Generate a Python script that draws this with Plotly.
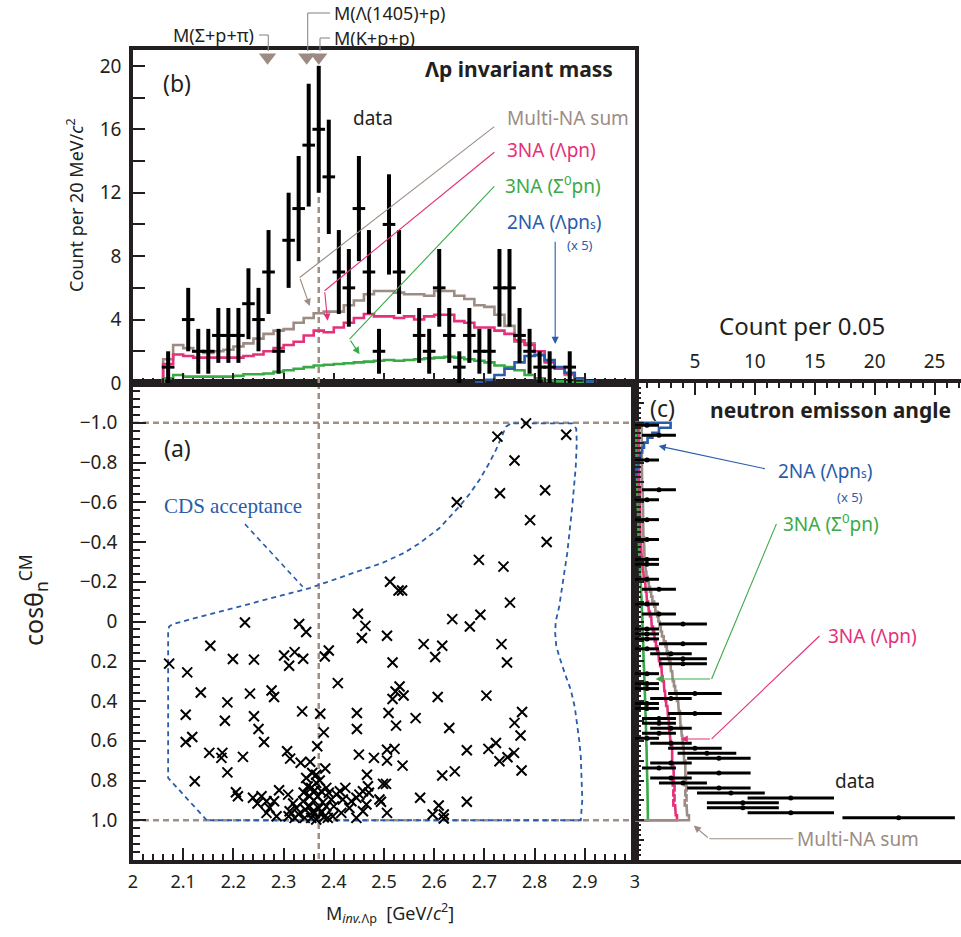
import numpy as np
import plotly.graph_objects as go

W, H = 961, 937

# ---------------- data ----------------
# (b) Lambda-p invariant mass, data in 20 MeV bins
b_centers = [round(2.07 + 0.02 * i, 2) for i in range(41)]
b_counts = [1, 0, 4, 2, 2, 3, 3, 3, 5, 4, 7, 2, 9, 11, 15, 16, 13, 7, 6, 11,
            7, 2, 10, 7, 0, 3, 2, 6, 3, 1, 3, 2, 2, 6, 6, 3, 2, 1, 1, 0, 1]

# (b) model histograms, bins 2.06 .. 2.92
b_edges = [round(2.06 + 0.02 * i, 2) for i in range(44)]
multi_b = [1.5, 2.4, 2.2, 2.0, 1.9, 2.0, 2.1, 2.3, 2.5, 2.8, 3.1, 3.3, 3.4, 3.8, 4.1,
           4.4, 4.5, 4.5, 4.9, 5.2, 5.6, 5.8, 5.8, 5.7, 5.6, 5.6, 5.5, 5.8, 5.8, 5.5,
           5.3, 4.9, 4.8, 4.3, 3.6, 2.6, 2.5, 1.8, 1.4, 0.9, 0.5, 0.3, 0.1]
lpn_b = [1.2, 1.8, 1.7, 1.6, 1.6, 1.6, 1.6, 1.6, 1.7, 1.8, 2.0, 2.2, 2.4, 2.6, 3.0,
         3.3, 3.2, 3.5, 3.8, 4.1, 4.35, 4.2, 4.2, 4.1, 4.2, 4.0, 4.2, 4.3, 4.3, 3.9,
         3.8, 3.5, 3.5, 3.3, 3.1, 2.7, 2.4, 2.0, 1.3, 0.9, 0.6, 0.3, 0.1]
s0pn_b = [0.3, 0.5, 0.4, 0.4, 0.4, 0.4, 0.4, 0.45, 0.55, 0.55, 0.6, 0.7, 0.8, 0.9, 1.0,
          1.1, 1.15, 1.2, 1.25, 1.3, 1.35, 1.4, 1.45, 1.4, 1.45, 1.5, 1.55, 1.6, 1.65, 1.6,
          1.5, 1.4, 1.3, 1.1, 1.0, 0.8, 0.5, 0.3, 0.15, 0.1, 0.05, 0.0, 0.0]
na2_edges = [round(2.68 + 0.02 * i, 2) for i in range(13)]
na2_b = [0.05, 0.2, 0.5, 0.9, 1.3, 1.7, 1.75, 1.45, 1.0, 0.65, 0.3, 0.1]

# thresholds marked on top
thr_mass = [2.268, 2.346, 2.370]

# (a) scatter: invariant mass vs cos theta_n
scat_m = [2.783, 2.726, 2.863, 2.760, 2.731, 2.821, 2.645, 2.791, 2.824, 2.689, 2.738, 2.512,
          2.529, 2.536, 2.751, 2.692, 2.636,
          2.671, 2.506, 2.579, 2.616, 2.602, 2.734, 2.517, 2.745, 2.531, 2.523, 2.539, 2.517,
          2.607, 2.704, 2.775, 2.509, 2.563, 2.760, 2.524, 2.630, 2.772, 2.723, 2.708, 2.506,
          2.521, 2.665, 2.759, 2.746, 2.730, 2.506, 2.537, 2.774, 2.641, 2.616, 2.498, 2.504,
          2.572, 2.665, 2.494, 2.609, 2.506, 2.597, 2.619, 2.619,
          2.448, 2.331, 2.463, 2.223, 2.345, 2.456, 2.154, 2.390, 2.382, 2.301, 2.322, 2.339,
          2.311, 2.199, 2.241, 2.072, 2.108, 2.408, 2.135, 2.233, 2.276, 2.281, 2.188, 2.337,
          2.373, 2.446, 2.105, 2.241, 2.183, 2.250, 2.380, 2.446, 2.261, 2.105, 2.118, 2.367,
          2.152, 2.178, 2.176, 2.219, 2.307, 2.313, 2.334, 2.353, 2.383, 2.188, 2.450, 2.480,
          2.466, 2.123, 2.357, 2.365, 2.345,
          2.205, 2.209, 2.239, 2.256, 2.248, 2.266, 2.281, 2.272, 2.266, 2.291, 2.309, 2.319,
          2.325, 2.312, 2.322, 2.339, 2.343, 2.352, 2.355, 2.365, 2.362, 2.355, 2.375, 2.385,
          2.390, 2.395, 2.385, 2.375, 2.388, 2.398, 2.412, 2.423, 2.418, 2.415, 2.431, 2.435,
          2.445, 2.451, 2.458, 2.468, 2.470, 2.465, 2.458, 2.445, 2.491, 2.286, 2.310, 2.342,
          2.365,
          2.348, 2.352, 2.360, 2.368, 2.370, 2.372, 2.378, 2.380, 2.362, 2.357, 2.400, 2.405,
          2.330, 2.340]
scat_cos = [-0.997, -0.93, -0.94, -0.81, -0.645, -0.66, -0.60, -0.51, -0.40, -0.31, -0.276, -0.20,
            -0.156, -0.156, -0.095, -0.034, -0.012,
            0.025, 0.072, 0.114, 0.122, 0.179, 0.114, 0.206, 0.206, 0.327, 0.352, 0.372, 0.39,
            0.38, 0.373, 0.455, 0.46, 0.486, 0.51, 0.524, 0.536, 0.574, 0.611, 0.641, 0.645,
            0.641, 0.648, 0.661, 0.683, 0.703, 0.70, 0.725, 0.75, 0.754, 0.775, 0.817, 0.817,
            0.887, 0.907, 0.907, 0.926, 0.963, 0.971, 0.971, 0.991,
            -0.039, 0.013, 0.022, 0.005, 0.053, 0.083, 0.122, 0.146, 0.176, 0.171, 0.154, 0.187,
            0.223, 0.189, 0.192, 0.212, 0.256, 0.31, 0.357, 0.363, 0.347, 0.38, 0.407, 0.452,
            0.464, 0.46, 0.469, 0.477, 0.499, 0.541, 0.558, 0.541, 0.606, 0.606, 0.581, 0.628,
            0.661, 0.661, 0.686, 0.681, 0.653, 0.69, 0.711, 0.706, 0.74, 0.759, 0.67, 0.686,
            0.771, 0.804, 0.762, 0.771, 0.787,
            0.859, 0.879, 0.887, 0.879, 0.916, 0.904, 0.904, 0.938, 0.963, 0.849, 0.871, 0.916,
            0.938, 0.955, 0.988, 0.904, 0.946, 0.879, 0.837, 0.812, 0.963, 0.988, 0.854, 0.837,
            0.862, 0.896, 0.93, 0.963, 0.988, 0.98, 0.854, 0.837, 0.896, 0.963, 0.938, 0.904,
            0.887, 0.871, 0.854, 0.829, 0.862, 0.921, 0.955, 0.988, 0.896, 0.98, 0.98, 0.988,
            0.996,
            0.83, 0.93, 0.90, 0.88, 0.94, 0.80, 0.91, 0.985, 0.85, 0.96, 0.93, 0.87,
            0.97, 0.86]

# CDS acceptance contour (mass, cos)
cds_m = [2.147, 2.070, 2.070, 2.072, 2.080, 2.352, 2.498, 2.540, 2.571, 2.610, 2.647, 2.670,
         2.690, 2.708, 2.723, 2.735, 2.743, 2.753, 2.875, 2.883, 2.884, 2.882, 2.879, 2.875,
         2.870, 2.865, 2.857, 2.849, 2.842, 2.841, 2.843, 2.849, 2.860, 2.872, 2.880, 2.885,
         2.889, 2.892, 2.894, 2.895, 2.892, 2.147]
cds_cos = [1.0, 0.787, 0.05, 0.025, 0.012, -0.168, -0.296, -0.345, -0.394, -0.469, -0.57, -0.64,
           -0.712, -0.79, -0.863, -0.93, -0.98, -0.997, -0.997, -0.97, -0.9, -0.779, -0.68, -0.578,
           -0.46, -0.344, -0.21, -0.075, 0.0, 0.058, 0.12, 0.176, 0.26, 0.343, 0.43, 0.511,
           0.6, 0.678, 0.79, 0.896, 1.0, 1.0]

# (c) neutron emission angle, bins of 0.025 from -1 to 1
c_edges = [round(-1 + 0.025 * k, 4) for k in range(81)]
c_counts = [1, 0, 2, 0, 0, 0, 0, 1, 0, 0,
            0, 0, 0, 2, 0, 1, 0, 0, 0, 1,
            0, 0, 0, 1, 0, 0, 0, 1, 1, 0,
            0, 1, 0, 2, 0, 0, 1, 0, 2, 0,
            4, 1, 1, 1, 4, 1, 3, 4, 4, 0,
            1, 0, 1, 1, 5, 3, 1, 1, 5, 2,
            2, 3, 2, 1, 3, 5, 6, 7, 3, 2,
            7, 3, 4, 7, 8, 13, 9, 9, 13, 22]
multi_c = [0.55, 0.55, 0.55, 0.55, 0.55, 0.55, 0.55, 0.55, 0.6, 0.6,
           0.6, 0.6, 0.6, 0.6, 0.65, 0.65, 0.65, 0.65, 0.7, 0.7,
           0.7, 0.7, 0.7, 0.75, 0.75, 0.75, 0.8, 0.8, 0.85, 0.9,
           0.95, 1.05, 1.15, 1.25, 1.35, 1.45, 1.6, 1.7, 1.85, 1.95,
           2.05, 2.15, 2.25, 2.4, 2.55, 2.65, 2.75, 2.85, 2.95, 3.0,
           3.1, 3.15, 3.25, 3.35, 3.45, 3.5, 3.6, 3.65, 3.75, 3.8,
           3.8, 3.85, 3.9, 3.95, 4.0, 4.05, 4.1, 4.1, 4.2, 4.15,
           4.2, 4.25, 4.15, 4.3, 4.2, 4.3, 4.15, 4.3, 4.35, 4.5]
lpn_c = [0.3, 0.3, 0.3, 0.3, 0.3, 0.3, 0.3, 0.3, 0.3, 0.35,
         0.35, 0.35, 0.35, 0.4, 0.4, 0.4, 0.4, 0.4, 0.45, 0.45,
         0.45, 0.45, 0.45, 0.45, 0.5, 0.5, 0.55, 0.6, 0.6, 0.65,
         0.7, 0.75, 0.85, 0.9, 0.95, 1.0, 1.1, 1.15, 1.25, 1.35,
         1.4, 1.5, 1.6, 1.65, 1.75, 1.85, 1.95, 2.0, 2.1, 2.2,
         2.25, 2.3, 2.4, 2.45, 2.5, 2.55, 2.6, 2.7, 2.75, 2.8,
         2.85, 2.85, 2.9, 2.95, 3.0, 3.1, 3.1, 3.15, 3.1, 3.2,
         3.2, 3.25, 3.15, 3.3, 3.2, 3.3, 3.2, 3.35, 3.4, 3.5]
s0pn_c = [0.1, 0.1, 0.1, 0.12, 0.12, 0.12, 0.14, 0.14, 0.15, 0.15,
          0.17, 0.17, 0.18, 0.2, 0.2, 0.22, 0.22, 0.24, 0.25, 0.26,
          0.27, 0.28, 0.3, 0.31, 0.33, 0.34, 0.36, 0.38, 0.4, 0.42,
          0.44, 0.46, 0.48, 0.5, 0.52, 0.54, 0.56, 0.58, 0.6, 0.61,
          0.62, 0.63, 0.65, 0.66, 0.68, 0.69, 0.7, 0.72, 0.73, 0.75,
          0.76, 0.78, 0.8, 0.81, 0.82, 0.84, 0.85, 0.86, 0.88, 0.89,
          0.9, 0.91, 0.92, 0.93, 0.95, 0.96, 0.97, 0.98, 0.99, 1.0,
          1.01, 1.02, 1.03, 1.04, 1.05, 1.05, 1.06, 1.07, 1.08, 1.08]
na2_c_edges = c_edges[:12]
na2_c = [2.97, 2.0, 1.45, 1.05, 0.75, 0.6, 0.45, 0.35, 0.25, 0.15, 0.1]

# ---------------- style ----------------
BROWN = "#9c8c84"
PINK = "#e5307a"
GREEN = "#3aaa48"
BLUE = "#2a5caa"
DASH = "#9e8f87"
FONT = "Noto Sans"
INK = "#231f20"


def px(x):
    return x / W


def py(y):
    return 1 - y / H


def steps(edges, vals):
    xs, ys = [edges[0]], [0]
    for i, v in enumerate(vals):
        xs += [edges[i], edges[i + 1]]
        ys += [v, v]
    xs.append(edges[-1])
    ys.append(0)
    return xs, ys


fig = go.Figure()

# ---- panel (b) ----
# dashed threshold line (b), behind everything
fig.add_trace(go.Scatter(x=[2.37, 2.37], y=[0, 20], mode="lines",
                         line=dict(color=DASH, width=2.5, dash="6px,4px"),
                         xaxis="x2", yaxis="y2", showlegend=False))

for vals, edges, col in [(multi_b, b_edges, BROWN), (lpn_b, b_edges, PINK),
                         (s0pn_b, b_edges, GREEN), (na2_b, na2_edges, BLUE)]:
    xs, ys = steps(edges, vals)
    fig.add_trace(go.Scatter(x=xs, y=ys, mode="lines", line=dict(color=col, width=2.6),
                             xaxis="x2", yaxis="y2", showlegend=False, hoverinfo="skip"))

bx = [m for m, c in zip(b_centers, b_counts) if c > 0]
by = [c for c in b_counts if c > 0]
fig.add_trace(go.Scatter(x=bx, y=by, mode="markers",
                         marker=dict(symbol="line-ew", size=9, line=dict(width=3, color="black")),
                         error_y=dict(type="data", array=np.sqrt(by), thickness=4, width=0,
                                      color="black"),
                         xaxis="x2", yaxis="y2", showlegend=False))

fig.add_trace(go.Scatter(x=thr_mass, y=[20.55] * 3, mode="markers",
                         marker=dict(symbol="triangle-down", size=15, color="#9b8b82"),
                         xaxis="x2", yaxis="y2", cliponaxis=False, showlegend=False))

# ---- panel (a) ----
for yy in [-1.0, 1.0]:
    fig.add_trace(go.Scatter(x=[2.0, 3.0], y=[yy, yy], mode="lines",
                             line=dict(color=DASH, width=2.5, dash="6px,4px"),
                             xaxis="x", yaxis="y", showlegend=False))
fig.add_trace(go.Scatter(x=[2.37, 2.37], y=[-1.2, 1.2], mode="lines",
                         line=dict(color=DASH, width=2.5, dash="6px,4px"),
                         xaxis="x", yaxis="y", showlegend=False))
fig.add_trace(go.Scatter(x=cds_m, y=cds_cos, mode="lines",
                         line=dict(color=BLUE, width=1.8, dash="5px,4px"),
                         xaxis="x", yaxis="y", showlegend=False))
fig.add_trace(go.Scatter(x=[2.223, 2.338], y=[-0.49, -0.175], mode="lines",
                         line=dict(color=BLUE, width=1.6, dash="5px,4px"),
                         xaxis="x", yaxis="y", showlegend=False))
fig.add_trace(go.Scatter(x=scat_m, y=scat_cos, mode="markers",
                         marker=dict(symbol="x-thin", size=10, line=dict(width=2, color="black")),
                         xaxis="x", yaxis="y", showlegend=False))

# ---- panel (c) ----
for vals, edges, col in [(s0pn_c, c_edges, GREEN), (lpn_c, c_edges, PINK),
                         (multi_c, c_edges, BROWN), (na2_c, na2_c_edges, BLUE)]:
    ys, xs = steps(edges, vals)
    fig.add_trace(go.Scatter(x=xs, y=ys, mode="lines", line=dict(color=col, width=2.6),
                             xaxis="x3", yaxis="y3", showlegend=False, hoverinfo="skip"))

c_mid = [round(-0.9875 + 0.025 * k, 4) for k in range(80)]
cy = [m for m, c in zip(c_mid, c_counts) if c > 0]
cx = [c for c in c_counts if c > 0]
fig.add_trace(go.Scatter(x=cx, y=cy, mode="markers",
                         marker=dict(symbol="circle", size=5, color="black"),
                         error_x=dict(type="data", array=np.sqrt(cx), thickness=3, width=0,
                                      color="black"),
                         xaxis="x3", yaxis="y3", cliponaxis=False, showlegend=False))

# ---------------- axes ----------------
frame = dict(showline=True, linecolor=INK, linewidth=3.5, showgrid=False, zeroline=False,
             tickcolor=INK, tickwidth=2, ticks="inside", automargin=False)
tickfont = dict(family=FONT, size=19, color=INK)

fig.update_layout(
    width=W, height=H, margin=dict(l=0, r=0, t=0, b=0, autoexpand=False),
    paper_bgcolor="white", plot_bgcolor="white",
    font=dict(family=FONT, color=INK),
    xaxis=dict(frame, domain=[px(133), px(635)], range=[2, 3], anchor="y", mirror=True,
               tickvals=[round(2 + 0.1 * i, 1) for i in range(11)],
               ticktext=["2", "2.1", "2.2", "2.3", "2.4", "2.5", "2.6", "2.7", "2.8", "2.9", "3"],
               ticklen=12, tickfont=dict(family=FONT, size=18, color=INK), ticklabelstandoff=3,
               minor=dict(ticks="inside", dtick=0.02, ticklen=6, tickcolor=INK, tickwidth=1.5)),
    yaxis=dict(frame, domain=[py(860), py(383)], range=[1.2, -1.2], anchor="x", mirror=True,
               tickvals=[-1.0, -0.8, -0.6, -0.4, -0.2, 0, 0.2, 0.4, 0.6, 0.8, 1.0],
               ticktext=["\u22121.0", "\u22120.8", "\u22120.6", "\u22120.4", "\u22120.2", "0",
                         "0.2", "0.4", "0.6", "0.8", "1.0"],
               ticklen=13, tickfont=tickfont, ticklabelstandoff=8,
               minor=dict(ticks="inside", dtick=0.04, ticklen=7, tickcolor=INK, tickwidth=1.5)),
    xaxis2=dict(frame, domain=[px(133), px(635)], range=[2, 3], anchor="y2", mirror=True,
                dtick=0.1, ticklen=10, showticklabels=False,
                minor=dict(ticks="inside", dtick=0.02, ticklen=5, tickcolor=INK, tickwidth=1.5)),
    yaxis2=dict(frame, domain=[py(383), py(50)], range=[0, 21], anchor="x2", mirror=True,
                tickvals=list(range(0, 21, 2)),
                ticktext=["0", "", "4", "", "8", "", "12", "", "16", "", "20"],
                ticklen=12, tickfont=tickfont, ticklabelstandoff=4),
    xaxis3=dict(frame, domain=[px(635), 1], range=[0, 27.2], anchor="y3", side="top",
                mirror=True, tickvals=[5, 10, 15, 20, 25], ticklen=12, tickfont=tickfont,
                ticklabelstandoff=4,
                minor=dict(ticks="inside", dtick=1, ticklen=5, tickcolor=INK, tickwidth=1.5)),
    yaxis3=dict(frame, domain=[py(860), py(383)], range=[1.2, -1.2], anchor="x3",
                showticklabels=False, dtick=0.1, ticklen=9,
                minor=dict(ticks="inside", dtick=0.025, ticklen=6, tickcolor=INK, tickwidth=1.5)),
)

# ---------------- text & leaders ----------------
ann = []


def text(x, y, s, size=17, color=INK, xanchor="center", angle=0):
    ann.append(dict(x=px(x), y=py(y), xref="paper", yref="paper", text=s, showarrow=False,
                    xanchor=xanchor, yanchor="middle", textangle=angle,
                    font=dict(family=FONT, size=size, color=color)))


def arrow(x0, y0, x1, y1, xr, yr, color):
    ann.append(dict(x=x1, y=y1, ax=x0, ay=y0, xref=xr, yref=yr, axref=xr, ayref=yr,
                    text="", showarrow=True, arrowhead=2, arrowsize=1.3, arrowwidth=1.1,
                    arrowcolor=color))


shapes = []


def seg(x0, y0, x1, y1, xr, yr, color, w=1.1):
    shapes.append(dict(type="line", x0=x0, y0=y0, x1=x1, y1=y1, xref=xr, yref=yr,
                       line=dict(color=color, width=w)))


# threshold labels
text(256, 35, "M(\u03a3+p+\u03c0)", 18, xanchor="right")
text(332, 13, "M(\u039b(1405)+p)", 18, xanchor="left")
text(332, 38, "M(K+p+p)", 18, xanchor="left")
for (xa, ya, xb) in [(259, 35, 268.3), (330, 13, 307.7), (330, 38, 320)]:
    seg(px(xa), py(ya), px(xb), py(ya), "paper", "paper", "#8a8a8a")
    seg(px(xb), py(ya), px(xb), py(51), "paper", "paper", "#8a8a8a")

# panel (b) texts
text(177, 83, "(b)", 23)
text(615, 69, "<b>\u039bp invariant mass</b>", 21, xanchor="right")
text(373, 118, "data", 19)
text(505, 118, "Multi-NA sum", 19, BROWN, "left")
text(505, 150, "3NA (\u039bpn)", 19, PINK, "left")
text(503, 185, "3NA (\u03a3<sup>0</sup>pn)", 19, GREEN, "left")
text(505, 222, "2NA (\u039bpn<span style='font-size:12px'>s</span>)", 19, BLUE, "left")
text(580, 245, "(x 5)", 13, BLUE)

seg(2.7197, 16.17, 2.332, 6.65, "x2", "y2", BROWN)
arrow(2.332, 6.65, 2.352, 4.86, "x2", "y2", BROWN)
seg(2.7197, 14.55, 2.3817, 5.82, "x2", "y2", PINK)
arrow(2.3817, 5.82, 2.3877, 3.92, "x2", "y2", PINK)
seg(2.7197, 12.4, 2.4314, 2.77, "x2", "y2", GREEN)
arrow(2.4314, 2.77, 2.4513, 1.82, "x2", "y2", GREEN)
arrow(2.841, 9.0, 2.841, 2.46, "x2", "y2", BLUE)

# panel (a)
text(177, 448, "(a)", 23)
ann.append(dict(x=px(233), y=py(506), xref="paper", yref="paper", showarrow=False,
                xanchor="center", yanchor="middle", text="CDS acceptance",
                font=dict(family="Liberation Serif", size=21, color=BLUE)))

# panel (c)
text(662, 408, "(c)", 23)
text(953, 410, "<b>neutron emisson angle</b>", 21, xanchor="right")
text(802, 325, "Count per 0.05", 24)
text(776, 471, "2NA (\u039bpn<span style='font-size:12px'>s</span>)", 19, BLUE, "left")
text(850, 497, "(x 5)", 13, BLUE)
text(781, 523, "3NA (\u03a3<sup>0</sup>pn)", 19, GREEN, "left")
text(826, 636, "3NA (\u039bpn)", 19, PINK, "left")
text(855, 781, "data", 19)
text(795, 839, "Multi-NA sum", 19, BROWN, "left")

arrow(10.97, -0.767, 1.97, -0.883, "x3", "y3", BLUE)
seg(11.8, -0.491, 6.39, 0.289, "x3", "y3", GREEN)
arrow(6.39, 0.289, 1.72, 0.289, "x3", "y3", GREEN)
seg(15.39, 0.073, 6.39, 0.591, "x3", "y3", PINK)
arrow(6.39, 0.591, 3.81, 0.591, "x3", "y3", PINK)
seg(13.2, 1.093, 6.2, 1.093, "x3", "y3", BROWN)
arrow(6.2, 1.093, 4.9, 1.027, "x3", "y3", BROWN)

# axis titles
text(75, 205, "Count per 20 MeV/<i>c</i><sup>2</sup>", 18, angle=-90)
text(33, 600, "cos\u03b8<sub>n</sub><sup>CM</sup>", 25, angle=-90)
text(390, 913, "M<sub><i>inv.</i>\u039bp</sub>  [GeV/<i>c</i><sup>2</sup>]", 18)

fig.update_layout(annotations=ann, shapes=shapes)

# no page margin, so the 961x937 figure fills the window exactly
fig.write_html("out.html", config={"displayModeBar": False},
               post_script="document.body.style.margin='0px';"
                           "document.body.style.overflow='hidden';")
